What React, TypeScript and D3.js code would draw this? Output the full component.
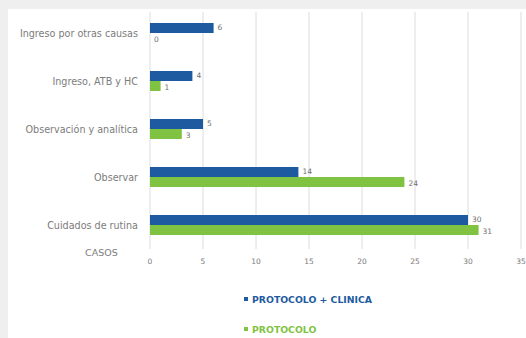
import React from "react";
import * as d3 from "d3";

const categories = [
  "Ingreso por otras causas",
  "Ingreso, ATB y HC",
  "Observación y analítica",
  "Observar",
  "Cuidados de rutina",
];
const protocoloClinica = [6, 4, 5, 14, 30];
const protocolo = [0, 1, 3, 24, 31];
const xTicks = [0, 5, 10, 15, 20, 25, 30, 35];
const seriesNames = ["PROTOCOLO + CLINICA", "PROTOCOLO"];

const W = 526;
const H = 338;
const BLUE = "#1e5aa0";
const GREEN = "#80c342";

export default function App() {
  const x = d3.scaleLinear().domain([0, 35]).range([150, 521]);
  const y = d3.scaleBand().domain(categories).range([9, 249]).paddingInner(0).paddingOuter(0);
  const bh = 10;
  const font = "'DejaVu Sans', Verdana, sans-serif";
  return (
    <svg width={W} height={H} style={{ position: "absolute", left: 0, top: 0 }} fontFamily={font}>
      <rect x={0} y={0} width={W} height={H} fill="#efefef" />
      <rect x={8} y={9} width={W - 8} height={H - 9} fill="#ffffff" />
      {xTicks.map((t) => (
        <g key={t}>
          <line x1={x(t)} x2={x(t)} y1={12} y2={249} stroke="#dcdcdc" strokeWidth={1} />
          <text x={x(t)} y={264} fontSize={7.5} fill="#7a7a7a" textAnchor="middle">{t}</text>
        </g>
      ))}
      {categories.map((c, i) => {
        const cy = (y(c) as number) + y.bandwidth() / 2;
        return (
          <g key={c}>
            <text x={138} y={cy + 3.5} fontSize={9.6} fill="#7c7c7c" textAnchor="end">{c}</text>
            <rect x={x(0)} y={cy - bh} width={x(protocoloClinica[i]) - x(0)} height={bh} fill={BLUE} />
            <rect x={x(0)} y={cy} width={x(protocolo[i]) - x(0)} height={bh} fill={GREEN} />
            <text x={x(protocoloClinica[i]) + 4} y={cy - 3} fontSize={7.5} fill="#707070">{protocoloClinica[i]}</text>
            <text x={x(protocolo[i]) + 4} y={cy + 9} fontSize={7.5} fill="#707070">{protocolo[i]}</text>
          </g>
        );
      })}
      <text x={85} y={256} fontSize={9.5} fill="#7c7c7c">CASOS</text>
      <rect x={244} y={297} width={4} height={4} fill={BLUE} />
      <text x={252} y={302.5} fontSize={9.3} fontWeight="bold" fill={BLUE}>{seriesNames[0]}</text>
      <rect x={244} y={327} width={4} height={4} fill={GREEN} />
      <text x={252} y={332.5} fontSize={9.3} fontWeight="bold" fill={GREEN}>{seriesNames[1]}</text>
    </svg>
  );
}
